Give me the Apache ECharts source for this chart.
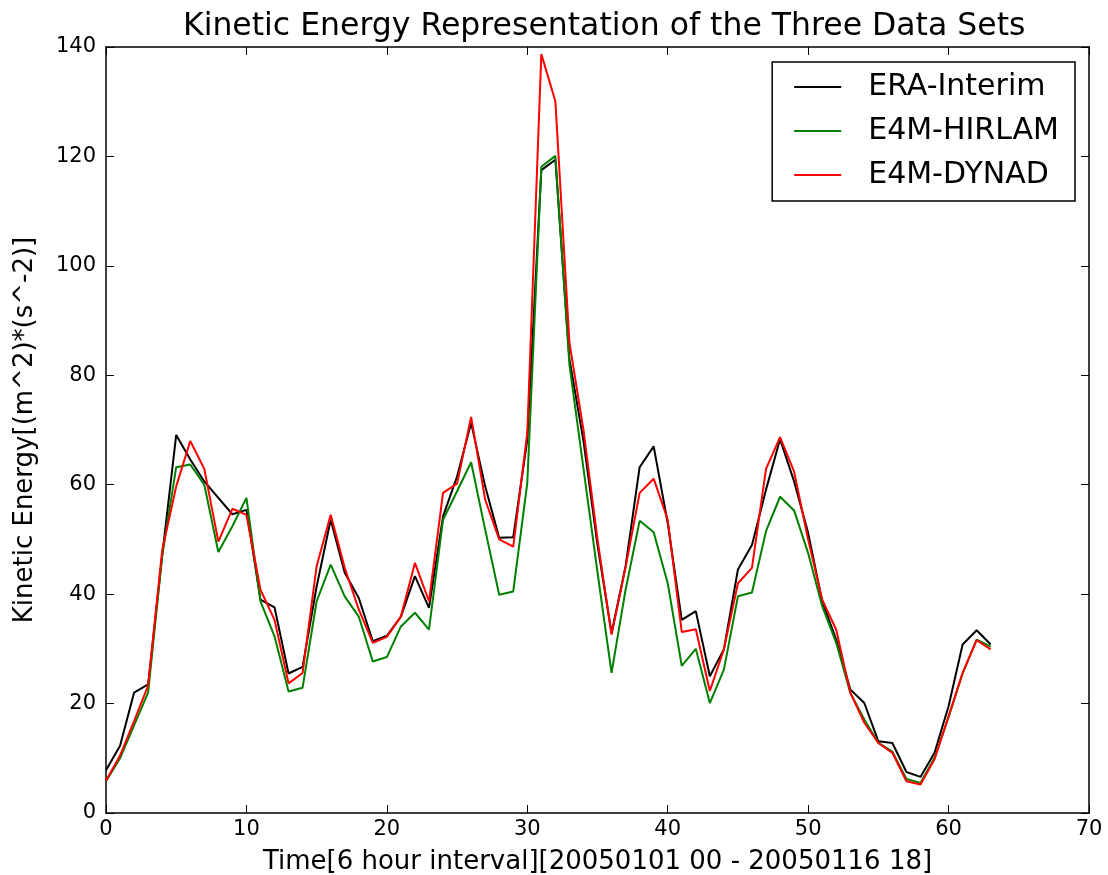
<!DOCTYPE html>
<html>
<head>
<meta charset="utf-8">
<script src="https://cdn.jsdelivr.net/npm/echarts@6/dist/echarts.min.js"></script>
<style>
  html, body { margin: 0; padding: 0; background: #fff; }
  #main { width: 1108px; height: 875px; }
</style>
</head>
<body>
<div id="main"></div>
<script>
// time steps 0..63 (6 hour interval)
const eraInterim = [
  7.8, 12.3, 22.0, 23.5, 47.0, 69.1, 64.6, 60.6, 57.6, 54.6,
  55.4, 39.0, 37.6, 25.5, 26.7, 41.4, 53.6, 43.9, 39.3, 31.4,
  32.4, 35.9, 43.3, 37.5, 54.2, 61.5, 71.3, 59.7, 50.3, 50.4,
  68.2, 117.5, 119.4, 83.0, 68.0, 49.0, 32.9, 45.1, 63.2, 67.0,
  53.0, 35.3, 36.9, 25.0, 29.9, 44.5, 49.0, 59.1, 68.3, 60.6,
  51.2, 38.7, 31.7, 22.6, 20.1, 13.1, 12.8, 7.5, 6.6, 11.0,
  19.5, 30.8, 33.4, 30.8
]
const e4mHirlam = [
  5.8, 10.0, 16.0, 22.0, 47.0, 63.2, 63.7, 60.0, 47.7, 52.4,
  57.6, 38.7, 32.3, 22.2, 22.9, 38.7, 45.4, 39.6, 35.9, 27.7,
  28.5, 34.1, 36.6, 33.5, 53.6, 58.8, 64.1, 51.8, 39.9, 40.5,
  60.3, 118.1, 120.1, 82.0, 63.0, 44.0, 25.6, 40.8, 53.4, 51.3,
  42.0, 26.9, 30.0, 20.1, 26.2, 39.6, 40.3, 51.5, 57.8, 55.3,
  47.5, 37.8, 31.1, 22.0, 17.1, 12.8, 11.2, 6.2, 5.5, 10.1,
  17.5, 25.5, 31.7, 30.4
]
const e4mDynad = [
  5.9, 10.5, 16.8, 23.3, 48.0, 59.7, 68.0, 62.9, 49.6, 55.6,
  54.5, 40.8, 35.3, 23.7, 25.6, 45.1, 54.5, 44.8, 37.2, 31.1,
  32.2, 35.9, 45.7, 38.7, 58.5, 60.2, 72.4, 57.3, 50.0, 48.7,
  69.5, 138.7, 130.1, 86.0, 70.0, 50.0, 32.6, 44.9, 58.5, 61.1,
  53.6, 33.1, 33.6, 22.3, 29.9, 42.0, 44.8, 62.9, 68.7, 62.4,
  50.0, 39.0, 33.5, 22.0, 16.5, 12.8, 11.0, 5.8, 5.2, 9.8,
  17.7, 25.6, 31.6, 29.9
]
const seriesNames = ['ERA-Interim', 'E4M-HIRLAM', 'E4M-DYNAD']
const seriesColors = ['#000000', '#008000', '#ff0000']

const font = 'DejaVu Sans'
const myChart = echarts.init(document.getElementById('main'))

function pairs(arr) {
  return arr.map((v, i) => [i, v])
}

const axisLine = { show: true, onZero: false, lineStyle: { color: '#000', width: 1.5 } }
const axisTick = { show: true, inside: true, length: 8, lineStyle: { color: '#000', width: 1 } }

var option = {
  animation: false,
  backgroundColor: '#fff',
  // title sits centred over the plot area, not the whole canvas
  title: {
    text: 'Kinetic Energy Representation of the Three Data Sets',
    left: 178,
    top: 6,
    textStyle: { fontFamily: font, fontSize: 31.5, fontWeight: 'normal', color: '#000' },
  },
  legend: {
    data: seriesNames,
    orient: 'vertical',
    right: 33,
    top: 62,
    padding: [10, 16, 11, 22],
    itemGap: 14,
    itemWidth: 47,
    itemHeight: 2,
    icon: 'rect',
    borderColor: '#000',
    borderWidth: 1.5,
    borderRadius: 0,
    backgroundColor: '#fff',
    textStyle: { fontFamily: font, fontSize: 30, color: '#000', padding: [0, 0, 0, 22] },
  },
  grid: { left: 106, right: 19, top: 47, bottom: 62, containLabel: false, outerBoundsMode: 'none' },
  xAxis: [
    {
      type: 'value',
      position: 'bottom',
      min: 0,
      max: 70,
      interval: 10,
      name: 'Time[6 hour interval][20050101 00 - 20050116 18]',
      nameLocation: 'middle',
      nameGap: 36,
      nameTextStyle: { fontFamily: font, fontSize: 26, color: '#000' },
      axisLine: axisLine,
      axisTick: axisTick,
      axisLabel: { fontFamily: font, fontSize: 21, color: '#000', margin: 6 },
      splitLine: { show: false },
    },
    {
      type: 'value',
      position: 'top',
      min: 0,
      max: 70,
      interval: 10,
      axisLine: axisLine,
      axisTick: axisTick,
      axisLabel: { show: false },
      splitLine: { show: false },
    },
  ],
  yAxis: [
    {
      type: 'value',
      position: 'left',
      min: 0,
      max: 140,
      interval: 20,
      name: 'Kinetic Energy[(m^2)*(s^-2)]',
      nameLocation: 'middle',
      nameGap: 68,
      nameTextStyle: { fontFamily: font, fontSize: 26, color: '#000' },
      axisLine: axisLine,
      axisTick: axisTick,
      axisLabel: { fontFamily: font, fontSize: 21, color: '#000', margin: 10 },
      splitLine: { show: false },
    },
    {
      type: 'value',
      position: 'right',
      min: 0,
      max: 140,
      interval: 20,
      axisLine: axisLine,
      axisTick: axisTick,
      axisLabel: { show: false },
      splitLine: { show: false },
    },
  ],
  series: [eraInterim, e4mHirlam, e4mDynad].map((arr, k) => ({
    name: seriesNames[k],
    type: 'line',
    data: pairs(arr),
    symbol: 'none',
    color: seriesColors[k],
    lineStyle: { color: seriesColors[k], width: 2 },
    z: 2 + k,
  })),
}

myChart.setOption(option)
</script>
</body>
</html>
